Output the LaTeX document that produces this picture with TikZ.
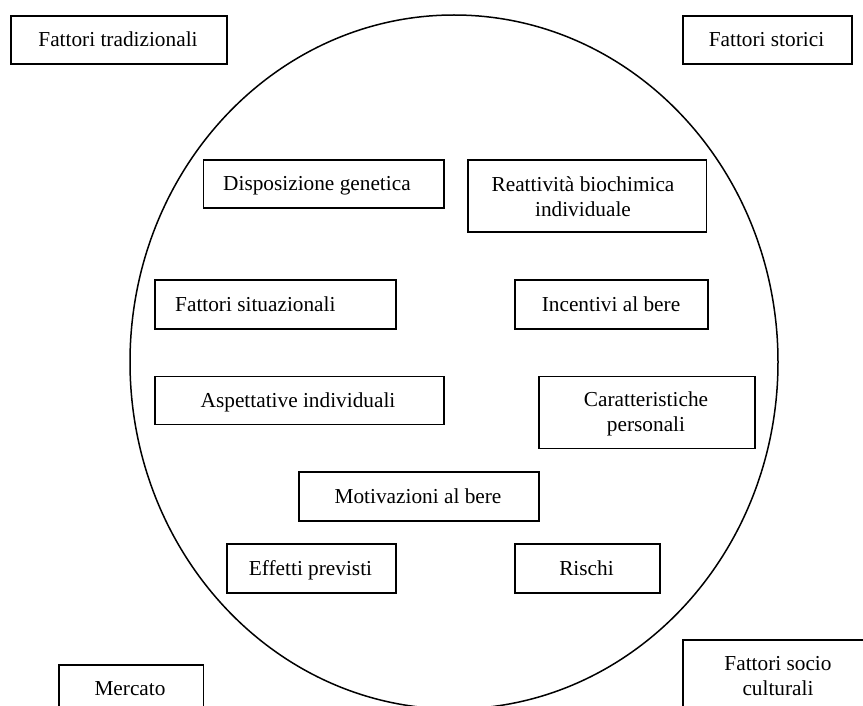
\documentclass[tikz,border=0pt]{standalone}
\usepackage{fontspec}
\setmainfont{Liberation Serif}
\usetikzlibrary{calc}
\begin{document}
\begin{tikzpicture}[x=1pt,y=-1pt,
  box/.style={draw=black, line width=1.6pt, rectangle, inner sep=0pt, anchor=north west},
  txt/.style={inner sep=0pt, font=\fontsize{21.3}{25}\selectfont, anchor=base},
  ltxt/.style={txt, anchor=base west}]
\useasboundingbox (0,0) rectangle (863,706);
\clip (0,0) rectangle (863,706);
\fill[white] (0,0) rectangle (863,706);
% large ellipse
\draw[line width=1.5pt] (454,362) ellipse [x radius=324pt, y radius=347pt];
% boxes
\node[box, minimum width=216pt, minimum height=48pt] (trad) at (10,15) {};
\node[box, minimum width=169pt, minimum height=48pt] (stor) at (682,15) {};
\node[box, minimum width=240.5pt, minimum height=48pt] (gen) at (202.5,159) {};
\node[box, minimum width=238.5pt, minimum height=72pt] (bio) at (467,159) {};
\node[box, minimum width=241pt, minimum height=49pt] (sit) at (154,279) {};
\node[box, minimum width=193pt, minimum height=49pt] (inc) at (514,279) {};
\node[box, minimum width=289pt, minimum height=48pt] (asp) at (154,375.5) {};
\node[box, minimum width=216pt, minimum height=72pt] (car) at (538,375.5) {};
\node[box, minimum width=240pt, minimum height=49pt] (mot) at (298,471) {};
\node[box, minimum width=169pt, minimum height=48.7pt] (eff) at (226,543.3) {};
\node[box, minimum width=145pt, minimum height=48.7pt] (ris) at (514,543.3) {};
\node[box, minimum width=144.5pt, minimum height=60pt] (mer) at (58,664) {};
\node[box, minimum width=192pt, minimum height=90pt] (soc) at (682,639) {};
% texts
\node[txt] (ttrad) at (118,47) {Fattori tradizionali};
\node[txt] (tstor) at (766.5,47) {Fattori storici};
\node[ltxt] (tgen) at (223,191) {Disposizione genetica};
\node[txt] (tbio1) at (583,191.5) {Reattività biochimica};
\node[txt] (tbio2) at (583,216.5) {individuale};
\node[ltxt] (tsit) at (175,311) {Fattori situazionali};
\node[txt] (tinc) at (611,311) {Incentivi al bere};
\node[txt] (tasp) at (298,407) {Aspettative individuali};
\node[txt] (tcar1) at (646,406.5) {Caratteristiche};
\node[txt] (tcar2) at (646,431.5) {personali};
\node[txt] (tmot) at (418,503) {Motivazioni al bere};
\node[txt] (teff) at (310.5,575.5) {Effetti previsti};
\node[txt] (tris) at (586.5,575.5) {Rischi};
\node[txt] (tmer) at (130,695.5) {Mercato};
\node[txt] (tsoc1) at (778,670) {Fattori socio};
\node[txt] (tsoc2) at (778,695) {culturali};
\end{tikzpicture}
\end{document}
